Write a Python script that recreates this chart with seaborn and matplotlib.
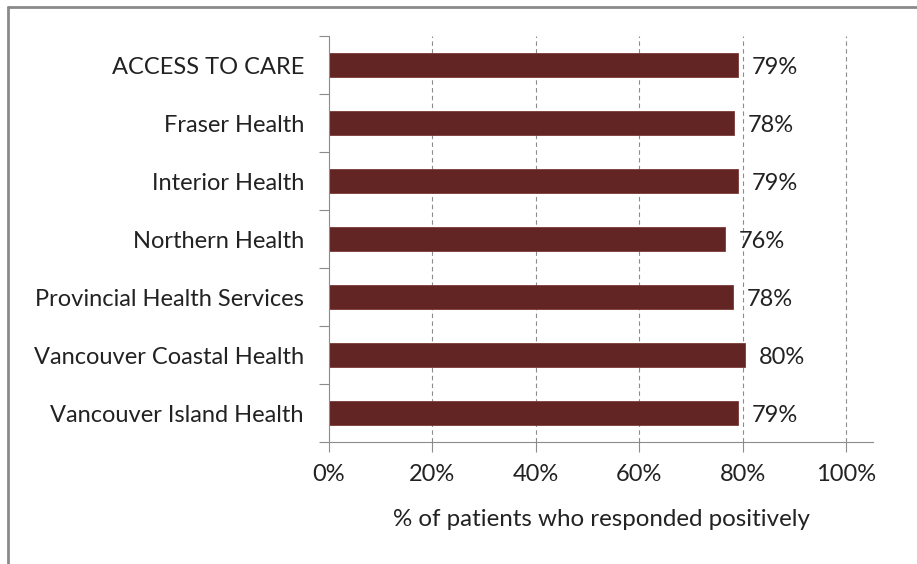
import numpy as np
import pandas as pd
import seaborn as sns
import matplotlib.pyplot as plt
from matplotlib.lines import Line2D

regions = ["ACCESS TO CARE", "Fraser Health", "Interior Health", "Northern Health",
           "Provincial Health Services", "Vancouver Coastal Health", "Vancouver Island Health"]
values = [0.791, 0.783, 0.791, 0.766, 0.781, 0.805, 0.791]
labels = ["79%", "78%", "79%", "76%", "78%", "80%", "79%"]
xticks = [0, 0.2, 0.4, 0.6, 0.8, 1.0]
xtick_labels = ["0%", "20%", "40%", "60%", "80%", "100%"]

sns.set_style("white")
plt.rcParams["font.family"] = ["Lato", "DejaVu Sans"]

df = pd.DataFrame({"region": regions, "value": values})

fig = plt.figure(figsize=(9.17, 5.64), dpi=100)
ax = fig.add_axes([329 / 917, 1 - 442 / 564, (873 - 329) / 917, (442 - 36) / 564])

sns.barplot(data=df, y="region", x="value", orient="h", color="#632523",
            edgecolor="#7a3a38", linewidth=0.6, width=0.4, saturation=1, ax=ax)

ax.set_xlim(0, 1.052)
ax.set_ylim(6.5, -0.5)
for x in xticks[1:]:
    ax.axvline(x, color="#8c8c8c", linestyle=(0, (4, 3)), linewidth=0.8, zorder=0)

fs = 17
for i, (v, t) in enumerate(zip(values, labels)):
    ax.text(v + 0.026, i + 0.05, t, va="center", ha="left", fontsize=fs, color="#222222")

ax.set_xticks(xticks)
ax.set_xticklabels(xtick_labels, fontsize=fs, color="#222222")
ax.set_yticks(range(len(regions)))
ax.set_yticklabels(regions, fontsize=fs, color="#222222")
ax.set_yticks(np.arange(-0.5, len(regions), 1.0), minor=True)
ax.tick_params(axis="y", which="major", left=False, length=0, pad=18)
ax.tick_params(axis="y", which="minor", left=True, length=7, width=0.8, color="#8c8c8c", direction="out")
ax.tick_params(axis="x", which="major", bottom=True, length=7, width=0.8, color="#8c8c8c",
               direction="out", pad=9)
ax.set_xlabel("% of patients who responded positively", fontsize=17.4, color="#222222", labelpad=17)
ax.set_ylabel("")

for s in ["top", "right"]:
    ax.spines[s].set_visible(False)
for s in ["left", "bottom"]:
    ax.spines[s].set_color("#8c8c8c")
    ax.spines[s].set_linewidth(0.8)

# outer frame
fig.add_artist(Line2D([8 / 917, 1], [1 - 7 / 564, 1 - 7 / 564], color="#8a8a8a", linewidth=2,
                      transform=fig.transFigure))
fig.add_artist(Line2D([8 / 917, 8 / 917], [0, 1 - 7 / 564], color="#8a8a8a", linewidth=2,
                      transform=fig.transFigure))

fig.savefig("out.png", dpi=100)
plt.close(fig)
